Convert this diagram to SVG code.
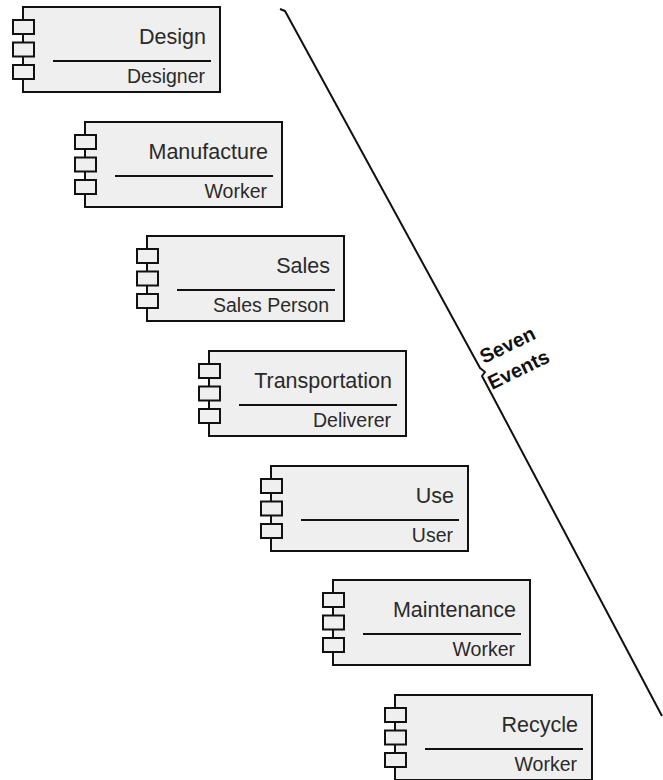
<svg xmlns="http://www.w3.org/2000/svg" width="663" height="780" viewBox="0 0 663 780">
  <style>
    .box { fill: #efefef; stroke: #111; stroke-width: 2; }
    .port { fill: #efefef; stroke: #111; stroke-width: 2; }
    .rule { stroke: #111; stroke-width: 2; }
    .title { font-family: "Liberation Sans", Arial, sans-serif; font-size: 21.5px; fill: #2a2a2a; text-anchor: end; }
    .role { font-family: "Liberation Sans", Arial, sans-serif; font-size: 19.5px; fill: #2a2a2a; text-anchor: end; }
    .brace { fill: none; stroke: #111; stroke-width: 2; stroke-linejoin: round; }
    .brace-label { font-family: "Liberation Sans", Arial, sans-serif; font-size: 20px; font-weight: bold; fill: #111; }
  </style>
  <defs>
    <!-- component symbol: body, three ports, divider; origin at body top-left -->
    <g id="component">
      <rect class="box" x="0" y="0" width="197" height="85"/>
      <rect class="port" x="-10" y="13" width="21" height="14"/>
      <rect class="port" x="-10" y="35.5" width="21" height="14"/>
      <rect class="port" x="-10" y="58" width="21" height="14"/>
      <line class="rule" x1="30" y1="54" x2="188" y2="54"/>
    </g>
  </defs>

  <g id="design" transform="translate(23,7)">
    <use href="#component"/>
    <text class="title" x="183" y="37">Design</text>
    <text class="role" x="182" y="76">Designer</text>
  </g>
  <g id="manufacture" transform="translate(85,122)">
    <use href="#component"/>
    <text class="title" x="183" y="37">Manufacture</text>
    <text class="role" x="182" y="76">Worker</text>
  </g>
  <g id="sales" transform="translate(147,236)">
    <use href="#component"/>
    <text class="title" x="183" y="37">Sales</text>
    <text class="role" x="182" y="76">Sales Person</text>
  </g>
  <g id="transportation" transform="translate(209,351)">
    <use href="#component"/>
    <text class="title" x="183" y="37">Transportation</text>
    <text class="role" x="182" y="76">Deliverer</text>
  </g>
  <g id="use" transform="translate(271,466)">
    <use href="#component"/>
    <text class="title" x="183" y="37">Use</text>
    <text class="role" x="182" y="76">User</text>
  </g>
  <g id="maintenance" transform="translate(333,580)">
    <use href="#component"/>
    <text class="title" x="183" y="37">Maintenance</text>
    <text class="role" x="182" y="76">Worker</text>
  </g>
  <g id="recycle" transform="translate(395,695)">
    <use href="#component"/>
    <text class="title" x="183" y="37">Recycle</text>
    <text class="role" x="182" y="76">Worker</text>
  </g>

  <!-- long brace grouping the stages -->
  <g id="connectors">
    <path class="brace" d="M280,9 L285,11 L480,368 L485,372 L482,376 L662,716"/>
    <text class="brace-label" transform="translate(484,364) rotate(-26)">Seven</text>
    <text class="brace-label" transform="translate(492,390) rotate(-26)">Events</text>
  </g>
</svg>
